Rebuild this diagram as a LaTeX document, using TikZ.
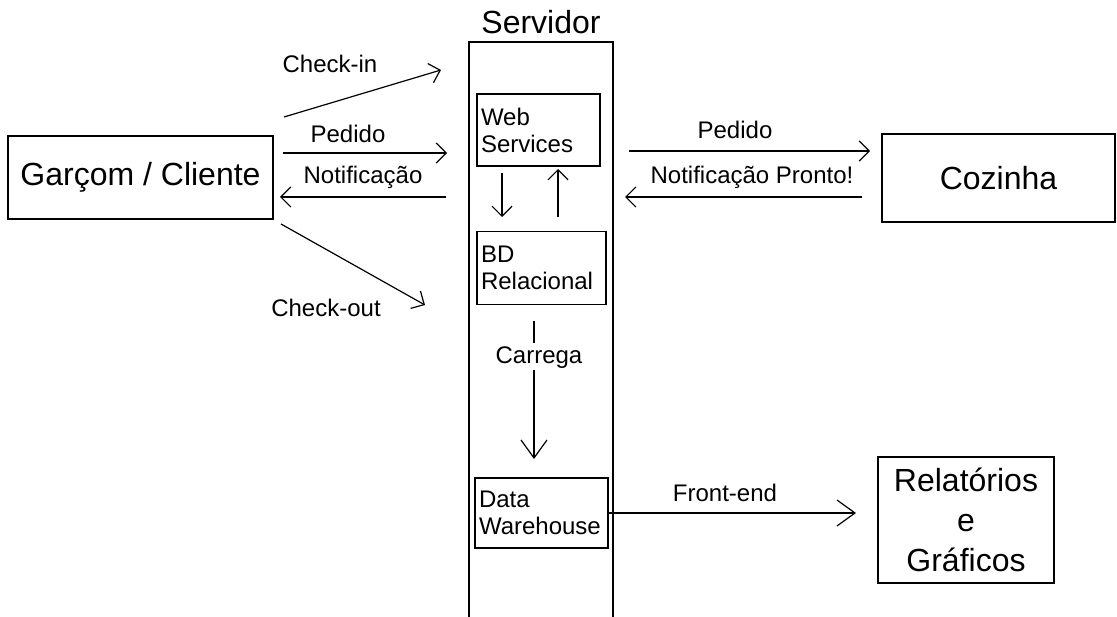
\documentclass[tikz,border=0pt]{standalone}
\usepackage{fontspec}
\setmainfont{Liberation Sans}
\usetikzlibrary{arrows.meta}
\begin{document}
\begin{tikzpicture}[x=1pt,y=-1pt,
  every path/.style={line width=1.2pt},
  arr/.style={-{Straight Barb[length=10pt,width=20pt,line width=1.2pt]}},
  bigarr/.style={-{Straight Barb[length=18pt,width=26pt,line width=1.2pt]}},
  lbl/.style={font=\fontsize{24}{27}\selectfont, inner sep=0pt},
  bigbox/.style={draw, line width=1.2pt, font=\fontsize{32}{40}\selectfont, align=center, inner sep=0pt},
  inbox/.style={draw, line width=1.2pt, font=\fontsize{24}{27}\selectfont, align=left, inner xsep=4pt, inner ysep=0pt},
]
\useasboundingbox (0,0) rectangle (1117,617);
\fill[white] (0,0) rectangle (1117,617);

% main boxes
\node[bigbox, minimum width=265pt, minimum height=83pt] (gc) at (140.5,177.5) {Garçom / Cliente};
\node[bigbox, minimum width=233pt, minimum height=88pt] (coz) at (998.5,178) {Cozinha};
\node[bigbox, minimum width=176pt, minimum height=126pt] (rel) at (966,520) {Relatórios\\e\\Gráficos};

% server
\node[font=\fontsize{32}{40}\selectfont, inner sep=0pt] (srvlabel) at (541,22) {Servidor};
\draw (469,640) -- (469,42) -- (613,42) -- (613,640);

\node[inbox, text width=115pt, minimum height=72pt] (ws) at (538.5,130) {Web\\Services};
\node[inbox, text width=121pt, minimum height=73pt] (bd) at (541.5,268) {BD\\Relacional};
\node[inbox, text width=125pt, minimum height=70pt] (dw) at (541.5,513) {Data\\Warehouse};

% coordinates for arrow ends
\coordinate (ci1) at (284,117);  \coordinate (ci2) at (441,70);
\coordinate (pe1) at (283,153);  \coordinate (pe2) at (447,153);
\coordinate (no1) at (446,197);  \coordinate (no2) at (280,197);
\coordinate (co1) at (281,224);  \coordinate (co2) at (425,305);
\coordinate (pk1) at (629,151);  \coordinate (pk2) at (870,151);
\coordinate (np1) at (862,197);  \coordinate (np2) at (625,197);
\coordinate (d1) at (502,173);   \coordinate (d2) at (502,217);
\coordinate (u1) at (558,217);   \coordinate (u2) at (558,169);
\coordinate (ca1) at (534,321);  \coordinate (ca2) at (534,343);
\coordinate (ca3) at (534,370);  \coordinate (ca4) at (534,459);
\coordinate (fe2) at (856,513);

% left side arrows
\draw[arr] (ci1) -- (ci2);
\draw[arr] (pe1) -- (pe2);
\draw[arr] (no1) -- (no2);
\draw[arr] (co1) -- (co2);
\node[lbl] (lci) at (330,64) {Check-in};
\node[lbl] (lpe) at (348,134) {Pedido};
\node[lbl] (lno) at (363,177) {Notificação};
\node[lbl] (lco) at (326,308) {Check-out};

% right side arrows
\draw[arr] (pk1) -- (pk2);
\draw[arr] (np1) -- (np2);
\node[lbl] (lpk) at (735,130) {Pedido};
\node[lbl] (lnp) at (752,177) {Notificação Pronto!};

% inside server
\draw[arr] (d1) -- (d2);
\draw[arr] (u1) -- (u2);
\draw (ca1) -- (ca2);
\node[lbl] (lca) at (539,358) {Carrega};
\draw[bigarr] (ca3) -- (ca4);

% front-end
\draw[bigarr] (dw.east) -- (fe2);
\node[lbl] (lfe) at (725,493) {Front-end};
\end{tikzpicture}
\end{document}
